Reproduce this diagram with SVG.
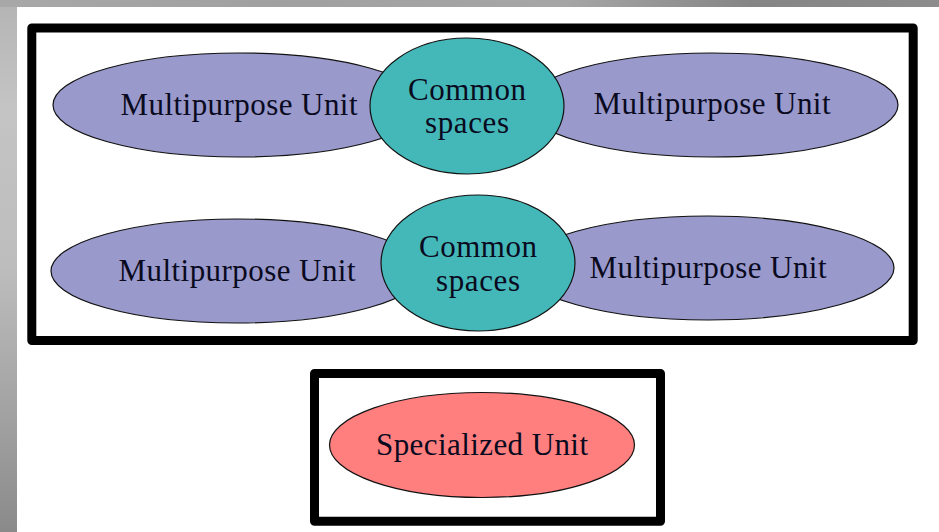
<svg xmlns="http://www.w3.org/2000/svg" width="939" height="532" viewBox="0 0 939 532">
<defs>
<linearGradient id="side" x1="0" y1="0" x2="0" y2="1">
<stop offset="0" stop-color="#b4b4b4"/><stop offset="0.2" stop-color="#c4c4c4"/><stop offset="0.5" stop-color="#bdbdbd"/><stop offset="0.8" stop-color="#a0a0a0"/><stop offset="1" stop-color="#8a8a8a"/>
</linearGradient>
<linearGradient id="top" x1="0" y1="0" x2="1" y2="0">
<stop offset="0" stop-color="#a8a8a8"/><stop offset="0.3" stop-color="#a0a0a0"/><stop offset="0.6" stop-color="#a6a6a6"/><stop offset="0.8" stop-color="#858585"/><stop offset="1" stop-color="#8c8c8c"/>
</linearGradient>
</defs>
<style>
.box{fill:none;stroke:#000;stroke-width:9;stroke-linejoin:round}
.mp{fill:#9999cc;stroke:#111;stroke-width:1.2}
.cs{fill:#44b8b8;stroke:#111;stroke-width:1.2}
.su{fill:#ff7f7f;stroke:#111;stroke-width:1.2}
text{font-family:"Liberation Serif","Times New Roman",serif;font-size:31px;fill:#0a0a1e;text-anchor:middle}
</style>
<rect width="939" height="532" fill="#fff"/>
<rect x="0" y="0" width="17" height="532" fill="url(#side)"/>
<rect x="0" y="0" width="939" height="7" fill="url(#top)"/>
<g id="frame-top"><rect class="box" x="31.8" y="28" width="881.4" height="312.5"/></g>
<g id="frame-bottom"><rect class="box" x="314.5" y="373.5" width="346" height="147.7"/></g>
<g id="connectors"></g>
<g id="unit-1"><ellipse class="mp" cx="239" cy="105" rx="186" ry="52"/><text x="239" y="115" textLength="237">Multipurpose Unit</text></g>
<g id="unit-2"><ellipse class="mp" cx="712" cy="105" rx="186" ry="52"/><text x="712" y="114" textLength="237">Multipurpose Unit</text></g>
<g id="unit-3"><ellipse class="mp" cx="237" cy="271" rx="186" ry="52"/><text x="237" y="281" textLength="237">Multipurpose Unit</text></g>
<g id="unit-4"><ellipse class="mp" cx="708" cy="268" rx="186" ry="52"/><text x="708" y="278" textLength="237">Multipurpose Unit</text></g>
<g id="common-1"><ellipse class="cs" cx="467" cy="106" rx="97" ry="68"/><text x="467" y="100" textLength="118">Common</text><text x="467" y="133" textLength="84">spaces</text></g>
<g id="common-2"><ellipse class="cs" cx="478" cy="263" rx="97" ry="68"/><text x="478" y="257" textLength="118">Common</text><text x="478" y="291" textLength="84">spaces</text></g>
<g id="specialized"><ellipse class="su" cx="482" cy="445" rx="152.500" ry="52.500"/><text x="482" y="455" textLength="212">Specialized Unit</text></g>
</svg>
